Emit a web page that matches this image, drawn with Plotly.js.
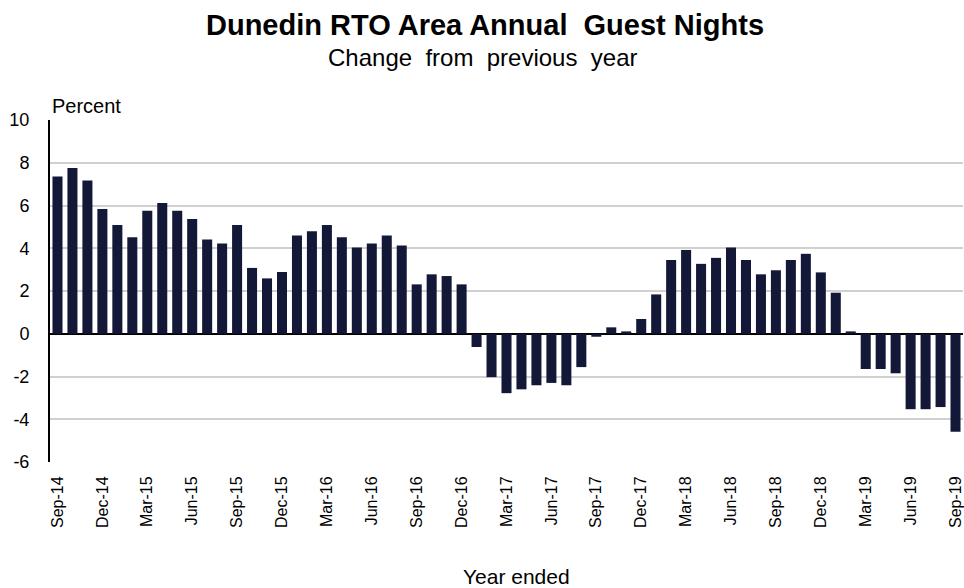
<!DOCTYPE html>
<html>
<head>
<meta charset="utf-8">
<script src="https://cdn.plot.ly/plotly-3.0.1.min.js"></script>
<style>html,body{margin:0;padding:0;background:#fff;}#chart{width:964px;height:588px;}</style>
</head>
<body>
<div id="chart"></div>
<script>
const months = [
  "Sep-14","Oct-14","Nov-14","Dec-14","Jan-15","Feb-15","Mar-15","Apr-15","May-15","Jun-15","Jul-15","Aug-15",
  "Sep-15","Oct-15","Nov-15","Dec-15","Jan-16","Feb-16","Mar-16","Apr-16","May-16","Jun-16","Jul-16","Aug-16",
  "Sep-16","Oct-16","Nov-16","Dec-16","Jan-17","Feb-17","Mar-17","Apr-17","May-17","Jun-17","Jul-17","Aug-17",
  "Sep-17","Oct-17","Nov-17","Dec-17","Jan-18","Feb-18","Mar-18","Apr-18","May-18","Jun-18","Jul-18","Aug-18",
  "Sep-18","Oct-18","Nov-18","Dec-18","Jan-19","Feb-19","Mar-19","Apr-19","May-19","Jun-19","Jul-19","Aug-19",
  "Sep-19"
];
const changePct = [
  7.36, 7.75, 7.17, 5.84, 5.09, 4.52, 5.75, 6.12, 5.75, 5.37, 4.41, 4.22,
  5.09, 3.08, 2.59, 2.89, 4.60, 4.80, 5.09, 4.52, 4.03, 4.22, 4.60, 4.13,
  2.31, 2.78, 2.70, 2.31, -0.62, -2.03, -2.78, -2.60, -2.41, -2.30, -2.41, -1.56,
  -0.14, 0.30, 0.11, 0.69, 1.84, 3.45, 3.92, 3.27, 3.55, 4.03, 3.45, 2.78,
  2.97, 3.45, 3.74, 2.87, 1.92, 0.11, -1.65, -1.65, -1.85, -3.53, -3.53, -3.43,
  -4.58
];
const tickLabels = ["Sep-14","Dec-14","Mar-15","Jun-15","Sep-15","Dec-15","Mar-16","Jun-16","Sep-16","Dec-16",
  "Mar-17","Jun-17","Sep-17","Dec-17","Mar-18","Jun-18","Sep-18","Dec-18","Mar-19","Jun-19","Sep-19"];
const yTicks = [-6,-4,-2,0,2,4,6,8,10];
const yTickText = ["-6","-4","-2","0","2","4","6","8","10"];

const font = "Liberation Sans, Arial, sans-serif";

Plotly.newPlot("chart", [{
  type: "bar",
  x: months,
  y: changePct,
  marker: {color: "#131838"},
  hoverinfo: "x+y"
}], {
  width: 964, height: 588,
  margin: {l: 50, r: 1, t: 120, b: 126},
  paper_bgcolor: "#fff", plot_bgcolor: "#fff",
  bargap: 0.33,
  showlegend: false,
  font: {family: font, color: "#000"},
  xaxis: {
    type: "category",
    tickmode: "array",
    tickvals: tickLabels,
    ticktext: tickLabels,
    tickangle: -90,
    tickfont: {size: 16, color: "#000"},
    ticks: "outside", ticklen: 7, tickcolor: "rgba(0,0,0,0)",
    showgrid: false,
    showline: false,
    zeroline: false
  },
  yaxis: {
    range: [-6, 10],
    tickmode: "array",
    tickvals: yTicks,
    ticktext: yTickText,
    tickfont: {size: 18, color: "#000"},
    ticks: "outside", ticklen: 15, tickcolor: "rgba(0,0,0,0)",
    showgrid: true, gridcolor: "#d0d0d0", gridwidth: 2,
    zeroline: true, zerolinecolor: "#000", zerolinewidth: 2,
    showline: true, linecolor: "#000", linewidth: 2
  },
  annotations: [
    {text: "<b>Dunedin RTO Area Annual  Guest Nights</b>", xref: "paper", yref: "paper", x: 0.476, y: 1, yshift: 120 - 7,
     xanchor: "center", yanchor: "top", showarrow: false, font: {size: 29, family: font}},
    {text: "Change  from  previous  year", xref: "paper", yref: "paper", x: 0.474, y: 1, yshift: 120 - 42,
     xanchor: "center", yanchor: "top", showarrow: false, font: {size: 24, family: font}},
    {text: "Percent", xref: "paper", yref: "paper", x: 0, y: 1, yshift: 1,
     xanchor: "left", yanchor: "bottom", showarrow: false, font: {size: 20, family: font}},
    {text: "Year ended", xref: "paper", yref: "paper", x: 0.511, y: 0, yshift: -101,
     xanchor: "center", yanchor: "top", showarrow: false, font: {size: 21, family: font}}
  ]
}, {displayModeBar: false, staticPlot: true});
</script>
</body>
</html>
